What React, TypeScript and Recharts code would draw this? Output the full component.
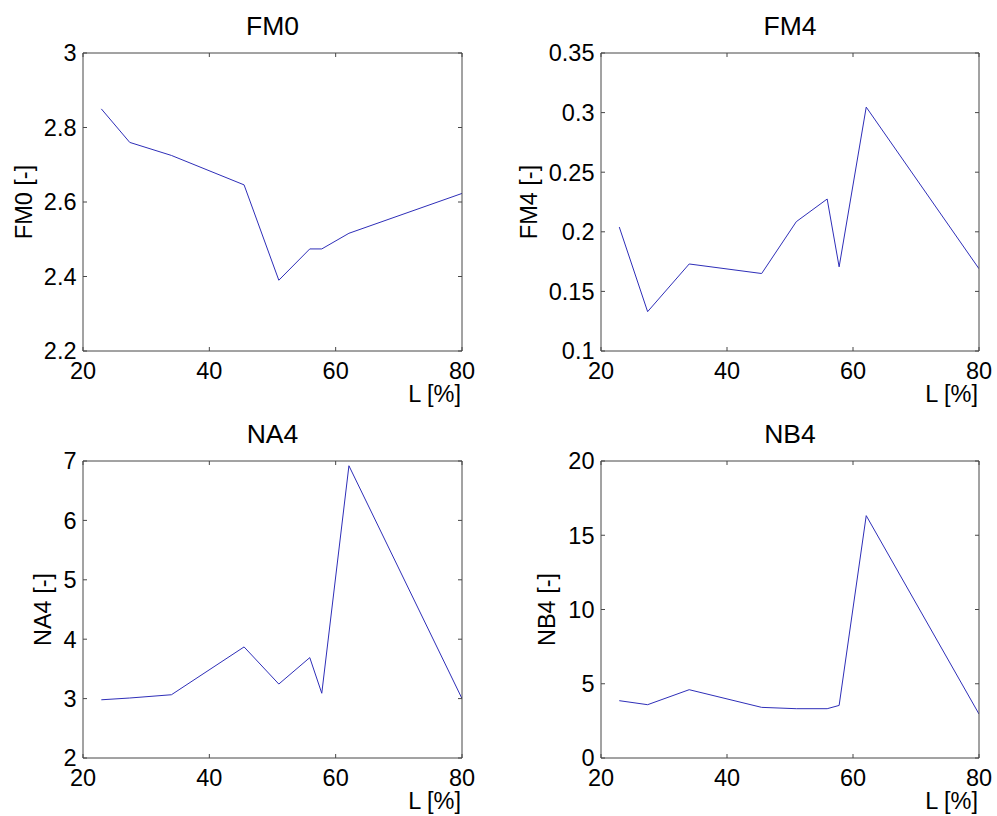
import React from 'react';
import { LineChart, Line, XAxis, YAxis } from 'recharts';

// x positions (L [%])
const L = [22.9, 27.4, 34.0, 45.5, 51.0, 55.9, 57.8, 62.1, 80.0];
// series values
const FM0 = [2.85, 2.76, 2.725, 2.646, 2.39, 2.474, 2.474, 2.516, 2.623];
const FM4 = [0.204, 0.133, 0.173, 0.165, 0.2085, 0.2275, 0.1706, 0.3046, 0.169];
const NA4 = [2.98, 3.01, 3.065, 3.87, 3.245, 3.69, 3.09, 6.92, 3.0];
const NB4 = [3.86, 3.59, 4.6, 3.41, 3.32, 3.32, 3.54, 16.32, 2.96];
// tick labels
const xTicks = [20, 40, 60, 80];
const fm0Ticks = [2.2, 2.4, 2.6, 2.8, 3];
const fm4Ticks = [0.1, 0.15, 0.2, 0.25, 0.3, 0.35];
const na4Ticks = [2, 3, 4, 5, 6, 7];
const nb4Ticks = [0, 5, 10, 15, 20];

const FONT = '"Liberation Sans", Arial, Helvetica, sans-serif';
const BOX = '#474747';
const LINE = '#2e2eb8';
const TICK_LEN = 4;
const FS = 23.5;

const BottomTick = (p: any) => (
  <g>
    <line x1={p.x} x2={p.x} y1={p.y} y2={p.y - TICK_LEN} stroke={BOX} strokeWidth={1} />
    <text x={p.x} y={p.y + 28} textAnchor="middle" fontSize={FS} fontFamily={FONT} fill="#000">
      {p.payload.value}
    </text>
  </g>
);
const TopTick = (p: any) => (
  <line x1={p.x} x2={p.x} y1={p.y} y2={p.y + TICK_LEN} stroke={BOX} strokeWidth={1} />
);
const LeftTick = (p: any) => (
  <g>
    <line x1={p.x} x2={p.x + TICK_LEN} y1={p.y} y2={p.y} stroke={BOX} strokeWidth={1} />
    <text x={p.x - 6.5} y={p.y} dy="0.36em" textAnchor="end" fontSize={FS} fontFamily={FONT} fill="#000">
      {p.payload.value}
    </text>
  </g>
);
const RightTick = (p: any) => (
  <line x1={p.x} x2={p.x - TICK_LEN} y1={p.y} y2={p.y} stroke={BOX} strokeWidth={1} />
);

type PanelProps = {
  left: number; top: number; width: number; height: number;
  plotL: number; plotT: number; plotR: number; plotB: number;
  title: string; ylabel: string; ylabelX: number;
  values: number[]; yDomain: [number, number]; yTicks: number[];
};

function Panel(props: PanelProps) {
  const { left, top, width, height, plotL, plotT, plotR, plotB, title, ylabel, ylabelX, values, yDomain, yTicks } = props;
  const data = L.map((x, i) => ({ x, v: values[i] }));
  const plotW = plotR - plotL;
  return (
    <div style={{ position: 'absolute', left, top, width, height }}>
      <LineChart
        width={width}
        height={height}
        data={data}
        margin={{ top: plotT - 1, right: width - plotR - 1, bottom: 0, left: 0 }}
      >
        <XAxis
          xAxisId="b"
          dataKey="x"
          type="number"
          domain={[20, 80]}
          ticks={xTicks}
          interval={0}
          allowDataOverflow
          orientation="bottom"
          height={height - plotB}
          tickSize={0}
          tickMargin={0}
          tick={BottomTick}
          axisLine={{ stroke: BOX, strokeWidth: 1 }}
          tickLine={false}
          label={{
            content: (lp: any) => {
              const vb = lp.viewBox || {};
              return (
                <text x={vb.x + vb.width - 1} y={vb.y + 51} textAnchor="end" fontSize={FS} fontFamily={FONT} fill="#000">
                  L [%]
                </text>
              );
            },
          }}
        />
        <XAxis
          xAxisId="t"
          dataKey="x"
          type="number"
          domain={[20, 80]}
          ticks={xTicks}
          interval={0}
          allowDataOverflow
          orientation="top"
          height={1}
          tickSize={0}
          tickMargin={0}
          tick={TopTick}
          axisLine={{ stroke: BOX, strokeWidth: 1 }}
          tickLine={false}
        />
        <YAxis
          yAxisId="l"
          type="number"
          domain={yDomain}
          ticks={yTicks}
          interval={0}
          allowDataOverflow
          orientation="left"
          width={plotL}
          tickSize={0}
          tickMargin={0}
          tick={LeftTick}
          axisLine={{ stroke: BOX, strokeWidth: 1 }}
          tickLine={false}
          label={{
            content: (lp: any) => {
              const vb = lp.viewBox || {};
              const cx = vb.x + ylabelX;
              const cy = vb.y + vb.height / 2;
              const tx = vb.x + vb.width + plotW / 2;
              const ty = vb.y - 18;
              return (
                <g>
                  <text
                    x={cx}
                    y={cy}
                    dy="0.36em"
                    transform={`rotate(-90, ${cx}, ${cy})`}
                    textAnchor="middle"
                    fontSize={FS}
                    fontFamily={FONT}
                    fill="#000"
                  >
                    {ylabel}
                  </text>
                  <text x={tx} y={ty} textAnchor="middle" fontSize={26.5} fontFamily={FONT} fill="#000">
                    {title}
                  </text>
                </g>
              );
            },
          }}
        />
        <YAxis
          yAxisId="r"
          type="number"
          domain={yDomain}
          ticks={yTicks}
          interval={0}
          allowDataOverflow
          orientation="right"
          width={1}
          tickSize={0}
          tickMargin={0}
          tick={RightTick}
          axisLine={{ stroke: BOX, strokeWidth: 1 }}
          tickLine={false}
        />
        <Line
          xAxisId="t"
          yAxisId="r"
          type="linear"
          dataKey="v"
          stroke="none"
          dot={false}
          activeDot={false}
          legendType="none"
          isAnimationActive={false}
        />
        <Line
          xAxisId="b"
          yAxisId="l"
          type="linear"
          dataKey="v"
          stroke={LINE}
          strokeWidth={1}
          dot={false}
          activeDot={false}
          isAnimationActive={false}
        />
      </LineChart>
    </div>
  );
}

export default function App() {
  return (
    <div style={{ position: 'absolute', left: 0, top: 0, width: 997, height: 816, background: '#fff', fontFamily: FONT }}>
      <Panel left={0} top={0} width={498} height={408} plotL={83} plotT={53} plotR={462} plotB={351}
        title="FM0" ylabel="FM0 [-]" ylabelX={24} values={FM0} yDomain={[2.2, 3]} yTicks={fm0Ticks} />
      <Panel left={498} top={0} width={499} height={408} plotL={103} plotT={53} plotR={481} plotB={351}
        title="FM4" ylabel="FM4 [-]" ylabelX={30.5} values={FM4} yDomain={[0.1, 0.35]} yTicks={fm4Ticks} />
      <Panel left={0} top={408} width={498} height={408} plotL={83} plotT={53} plotR={462} plotB={350}
        title="NA4" ylabel="NA4 [-]" ylabelX={43} values={NA4} yDomain={[2, 7]} yTicks={na4Ticks} />
      <Panel left={498} top={408} width={499} height={408} plotL={103} plotT={53} plotR={481} plotB={350}
        title="NB4" ylabel="NB4 [-]" ylabelX={49} values={NB4} yDomain={[0, 20]} yTicks={nb4Ticks} />
    </div>
  );
}
